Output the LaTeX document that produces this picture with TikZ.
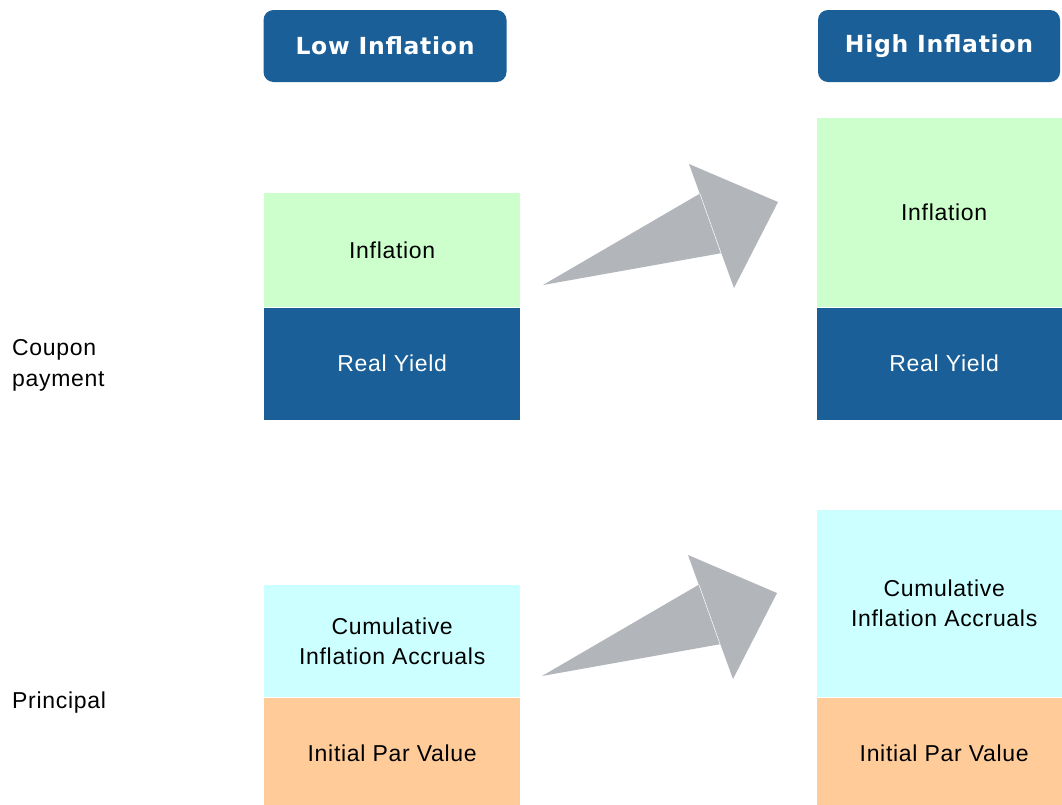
\documentclass[tikz,border=0pt]{standalone}
\usepackage{fontspec}
\setmainfont[LetterSpace=3]{Liberation Sans}
\newfontfamily\headfont[LetterSpace=3]{DejaVu Sans}
\usetikzlibrary{positioning}
\definecolor{bondblue}{HTML}{1A5F97}
\definecolor{inflgreen}{HTML}{CCFFCC}
\definecolor{accrcyan}{HTML}{CCFFFF}
\definecolor{parorange}{HTML}{FFCC99}
\definecolor{arrowgray}{HTML}{B2B5BA}
\tikzset{
  bar/.style={rectangle,inner sep=0pt,minimum width=256,align=center,
    font=\fontsize{23}{30}\selectfont},
  head/.style={rectangle,rounded corners=10pt,fill=bondblue,text=white,
    inner sep=0pt,minimum width=243,minimum height=72,
    font=\headfont\bfseries\fontsize{23.5}{28}\selectfont},
  sidelabel/.style={anchor=west,inner sep=0pt,align=left,
    font=\fontsize{23}{31}\selectfont}
}
% fat grey arrow, tail at the given point
\newcommand{\growarrow}[1]{%
  \begin{scope}[shift={(#1)}]
    \fill[arrowgray] (0,0) -- (170,-99) -- (196,-35) -- cycle;
    \fill[arrowgray] (146,-121) -- (235,-83) -- (191,3) -- cycle;
    \draw[white,line width=0.5pt] (157,-91) -- (178,-32);
  \end{scope}}

\begin{document}
\begin{tikzpicture}[x=1pt,y=-1pt]
  \clip (0,0) rectangle (1062,804);
  \fill[white] (0,0) rectangle (1062,804);

  % column headers
  \node[head] (lowhead) at (385,46) {Low Inflation};
  \node[head,minimum width=242] (highhead) at (939,46) {High Inflation};

  % low inflation stacks
  \node[bar,fill=inflgreen,minimum height=114,anchor=north west] (lowinfl) at (264,193) {Inflation};
  \node[bar,fill=bondblue,text=white,minimum height=112,below=0pt of lowinfl] (lowreal) {Real Yield};
  \node[bar,fill=accrcyan,minimum height=112,anchor=north west] (lowaccr) at (264,585) {Cumulative\\Inflation Accruals};
  \node[bar,fill=parorange,minimum height=112,below=0pt of lowaccr] (lowpar) {Initial Par Value};

  % high inflation stacks
  \node[bar,fill=inflgreen,minimum width=254,minimum height=189,anchor=north west] (highinfl) at (817,118) {Inflation};
  \node[bar,fill=bondblue,text=white,minimum width=254,minimum height=112,below=0pt of highinfl] (highreal) {Real Yield};
  \node[bar,fill=accrcyan,minimum width=254,minimum height=187,anchor=north west] (highaccr) at (817,510) {Cumulative\\Inflation Accruals};
  \node[bar,fill=parorange,minimum width=254,minimum height=112,below=0pt of highaccr] (highpar) {Initial Par Value};

  % row labels
  \node[sidelabel] (coupon) at (12,365) {Coupon\\payment};
  \node[sidelabel] (principal) at (12,703) {Principal};

  % arrows between the columns
  \growarrow{543,285}
  \growarrow{542,676}
\end{tikzpicture}
\end{document}
